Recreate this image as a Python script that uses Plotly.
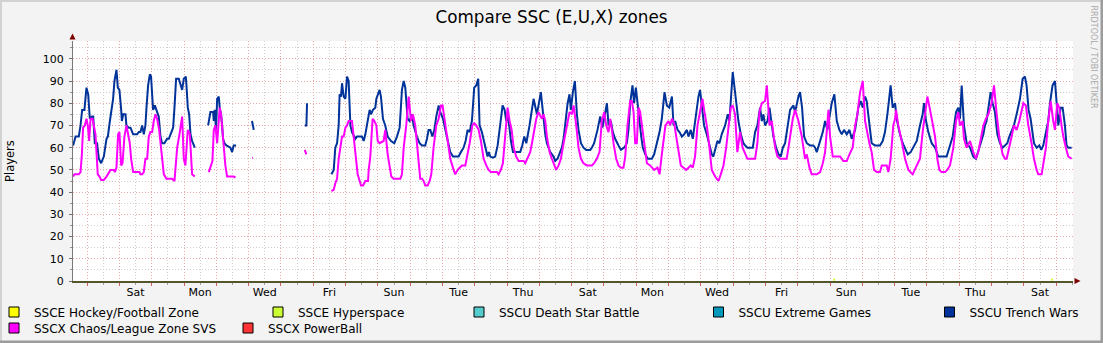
import pandas as pd
import plotly.graph_objects as go

# ---------------- data ----------------
chart_title = "Compare SSC (E,U,X) zones"
y_title = "Players"
watermark = "RRDTOOL / TOBI OETIKER"

start_time = "2024-01-04 13:30"
span_hours = 743

series_names = [
    "SSCE Hockey/Football Zone", "SSCE Hyperspace", "SSCU Death Star Battle",
    "SSCU Extreme Games", "SSCU Trench Wars", "SSCX Chaos/League Zone SVS", "SSCX PowerBall",
]
series_colors = ["#FFFF00", "#CCFF33", "#55CCCC", "#0099BB", "#003399", "#FF00FF", "#FF3333"]

day_labels = ["Sat", "Mon", "Wed", "Fri", "Sun", "Tue", "Thu", "Sat",
              "Mon", "Wed", "Fri", "Sun", "Tue", "Thu", "Sat"]
label_times = ["2024-01-06 12:00", "2024-01-08 12:00", "2024-01-10 12:00", "2024-01-12 12:00",
               "2024-01-14 12:00", "2024-01-16 12:00", "2024-01-18 12:00", "2024-01-20 12:00",
               "2024-01-22 12:00", "2024-01-24 12:00", "2024-01-26 12:00", "2024-01-28 12:00",
               "2024-01-30 12:00", "2024-02-01 12:00", "2024-02-03 12:00"]

# SSCU Trench Wars (hours after start, players)
tw_hours = [0.1,1.9,4.3,5.6,6.8,8.5,10.0,11.3,12.5,14.2,15.0,16.2,17.9,19.2,20.9,22.9,24.9,25.9,27.4,29.1,29.8,30.8,32.3,33.3,34.5,35.8,36.3,37.3,39.0,39.7,41.5,42.7,44.7,47.6,48.9,50.1,51.4,52.6,53.8,54.6,55.8,57.1,58.0,58.8,59.5,60.8,61.8,63.0,63.7,65.0,66.2,67.9,69.9,71.2,72.9,74.4,75.4,76.6,78.6,79.8,81.1,82.3,83.8,84.3,85.3,86.3,87.3,88.5,90.5,
    95,
    100.4,102.1,104.1,104.6,105.3,106.3,107.1,108.3,109.0,110.0,110.8,111.5,112.5,114.0,117.0,118.2,119.4,121.2,
    127, 133.0,134.3, 150, 172.2,173.4,173.9, 180,
    192.0,193.7,194.9,196.2,197.4,198.1,199.1,199.9,201.1,202.4,203.6,204.8,206.1,207.3,209.8,211.0,214.7,216.0,217.2,218.5,220.4,221.4,222.9,224.6,225.4,227.8,228.8,230.3,232.0,233.8,236.3,238.7,240.7,242.7,244.4,245.7,246.9,248.6,250.1,251.8,253.1,255.5,257.5,259.3,261.7,263.0,264.2,265.5,267.0,268.5,269.9,271.7,272.9,274.9,276.6,278.3,280.3,282.3,286.5,288.2,290.2,291.7,293.2,294.7,296.4,298.1,299.6,301.1,302.1,303.8,305.6,307.1,308.0,309.0,310.0,312.0,313.7,315.5,317.4,319.2,320.7,321.9,322.9,324.1,325.4,326.9,331.1,332.3,333.8,335.3,336.8,339.2,342.2,344.7,347.6,349.6,350.9,352.1,354.6,357.1,358.3,360.0,362.0,363.2,364.5,365.7,367.5,368.9,369.9,371.4,372.9,374.4,375.6,377.4,379.3,381.3,384.3,385.5,387.2,389.7,391.7,393.4,395.4,396.7,397.9,399.6,401.1,402.8,405.3,407.1,409.5,411.5,412.7,414.0,415.7,416.9,418.2,419.4,420.9,422.2,423.4,425.2,427.1,430.1,431.8,433.8,435.8,437.5,439.5,441.2,443.0,445.0,446.2,447.4,449.2,450.6,452.4,454.1,456.1,457.3,459.0,460.5,462.2,464.7,465.9,467.4,468.9,470.9,472.9,474.6,475.8,477.6,478.8,480.3,482.0,484.5,486.5,487.7,490.2,491.9,493.1,494.4,496.2,498.1,499.4,501.1,505.1,506.8,508.5,510.5,511.8,513.0,514.2,516.0,517.5,519.2,520.4,522.4,524.2,525.9,527.4,529.1,530.8,532.8,535.3,536.5,539.0,540.2,541.7,543.2,545.2,547.6,550.1,551.4,552.6,554.6,557.1,558.8,560.5,563.7,565.7,567.5,569.4,571.2,572.9,574.9,576.9,578.6,581.1,583.5,585.3,586.8,588.5,589.7,591.7,593.4,595.9,599.6,601.6,603.3,605.1,607.5,609.0,610.8,612.0,614.0,616.5,618.2,620.2,622.4,624.4,626.9,629.3,631.3,632.3,633.8,635.5,638.0,640.5,642.9,644.2,649.1,651.1,653.6,656.1,657.8,659.0,660.3,662.0,664.0,666.5,668.9,670.9,672.6,674.4,676.4,677.6,678.8,680.1,681.8,683.3,685.0,686.8,688.7,690.7,692.5,694.2,695.7,697.4,699.1,701.1,703.6,705.6,707.3,708.5,710.0,711.5,714.0,716.0,718.0,719.4,720.9,722.9,724.6,725.9,727.8,729.6,730.8,732.1,733.8,735.3,737.0,738.2,739.5,742.0]
tw_players = [61,65,65,70,77,77,87,84,73,74,74,62,62,55,53,56,64,65,72,79,82,90,95,87,86,77,72,75,75,70,69,69,66,66,67,67,70,66,70,78,88,93,92,84,77,79,77,75,74,65,62,62,64,64,67,69,78,91,91,89,86,91,92,88,78,75,66,63,60,
    None,
    70,76,76,72,77,68,82,83,78,75,70,64,62,61,60,58,61,61,
    None, 72,68, None, 70,70,80, None,
    48,50,60,62,70,84,83,89,83,82,92,90,70,67,64,65,65,63,66,70,77,75,77,78,82,86,83,73,70,65,63,62,65,69,86,90,87,73,72,75,70,65,62,61,61,64,68,68,65,68,74,79,76,73,68,63,58,56,56,58,60,63,68,67,72,87,88,91,70,67,62,58,56,58,56,55.5,56,61,70,79,77,72,74,70,63,58,58,58,61,65,62,70,82,75,85,73,66,62,58,56,54,55,58,60,64,70,80,84,77,85,90,75,68,62,60,59,59,60,62,68,74,69,76,80,70,72,67,64,61,59,60,62,68,80,88,80,87,80,70,65,60,57,55,55,57,62,67,73,85,79,78,83,70,72,68,67,65,66,68,65,68,64,72,83,86,78,70,66,61,57,56,60,63,62,66,70,75,72,94,85,78,72,66,62,61,60,60,67,70,78,72,75,70,72,78,70,65,60,57,56,60,62,68,77,79,76,83,85,78,65,62,61,61,60,58,62,67,72,68,80,84,72,68,66,68,66,68,64,68,78,81,78,83,81,70,62,61,61,63,67,75,88,78,80,73,67,62,60,57,58,60,63,70,75,80,72,67,62,60,56,56,56,60,65,76,78,73,88,70,62,60,56,55,58,62,66,70,72,78,85,80,76,66,62,60,61,62,65,68,70,75,82,91,92,88,77,73,62,60,61,59,61,67,72,80,88,90,82,70,78,78,70,61,60,60]

# SSCX Chaos/League Zone SVS (hours after start, players)
svs_hours = [0.1,1.1,4.3,5.6,6.6,7.5,8.8,10.0,11.0,12.0,13.0,14.5,15.5,16.7,18.4,19.7,20.9,22.9,24.9,25.9,27.8,30.3,31.1,32.3,33.5,34.5,35.8,36.8,38.2,39.7,41.0,42.2,43.2,44.7,49.4,50.1,51.4,52.6,53.8,55.1,56.3,57.5,58.8,60.0,61.3,62.5,64.0,65.5,67.5,69.4,73.6,75.4,77.4,79.1,81.1,82.3,83.5,85.3,86.8,88.5,90.5,
    95,
    100.9,102.6,103.6,104.6,105.8,107.1,107.8,109.0,110.0,111.0,112.0,113.2,114.5,119.4,120.7,
    127, 133.0,133.6, 150, 172.2,173.4, 180,
    192.0,193.7,194.9,196.2,197.4,198.6,199.9,201.1,202.4,203.6,204.8,207.3,208.0,209.3,210.5,211.5,213.0,214.0,215.5,216.5,217.2,219.2,219.7,220.9,222.6,223.9,225.4,226.4,227.8,230.8,232.0,233.8,235.3,236.5,238.2,243.2,244.4,245.7,247.6,249.4,251.1,252.6,254.3,255.5,256.8,258.0,259.3,260.5,261.7,263.5,265.0,266.2,267.9,269.9,271.7,273.4,274.6,276.6,278.3,280.3,282.8,284.0,285.8,289.0,291.5,293.2,294.7,296.7,298.1,299.6,301.4,303.1,305.1,307.1,308.8,310.5,315.0,316.2,317.9,319.4,321.4,322.9,324.4,325.9,327.4,329.3,331.1,334.8,336.0,337.3,339.7,341.0,342.7,344.2,345.9,348.4,349.6,350.9,352.1,354.1,355.8,357.5,359.0,360.8,362.5,364.5,367.0,368.9,370.7,371.9,373.9,375.6,377.4,379.3,381.8,385.5,387.2,389.2,391.2,392.9,394.7,396.2,397.9,399.2,400.4,401.6,403.6,405.3,407.1,409.0,410.3,412.0,414.0,415.2,416.5,417.7,418.9,420.2,421.4,422.6,424.4,426.4,428.8,431.8,434.3,435.8,437.5,438.7,440.2,442.5,443.7,445.0,446.7,448.2,449.9,451.6,453.6,455.6,457.3,459.0,460.5,462.2,464.0,465.9,467.7,469.2,470.9,472.9,474.6,477.1,479.6,481.3,483.3,485.3,487.0,488.7,490.2,491.9,493.6,495.6,497.5,499.4,501.1,506.8,508.5,510.0,511.8,514.2,515.5,517.5,519.2,521.7,523.4,525.4,530.3,531.6,533.3,534.8,536.5,539.0,541.5,543.9,545.2,547.2,548.9,552.6,555.1,557.1,558.8,561.3,562.5,564.5,566.2,569.9,572.4,574.9,576.9,579.3,581.1,582.8,584.8,586.8,588.5,589.7,591.7,593.4,595.2,597.2,599.6,600.9,604.6,605.8,607.5,609.5,610.8,611.5,613.2,615.7,618.2,620.7,623.9,626.9,629.3,631.3,633.0,634.8,636.8,638.7,640.5,642.2,643.7,645.4,647.9,649.6,651.6,654.1,656.1,657.8,659.0,661.0,662.0,664.0,666.5,668.9,670.9,672.6,674.4,676.4,678.3,680.1,682.5,684.3,686.3,688.2,690.7,692.5,693.7,695.7,697.4,699.1,701.1,703.1,706.1,708.0,709.8,712.2,714.0,716.0,717.2,719.7,720.9,722.9,724.6,726.4,728.3,729.6,731.3,732.8,734.5,735.8,737.7,739.5,742.0]
svs_players = [47,48,48,49,57,69,70,73,70,63,73,73,70,66,48,47,45.5,45.5,47,48,50,50,49,51,66,67,52,53,65,70,66,62,55,49,49,48,48,49,55,55,65,67,67,72,75,73,68,60,48,46,46,45,60,66,74,55,52,68,66,48,47,
    None,
    49,53,54,68,70,62,70,78,75,67,60,52,47,47,46.5,
    None, 55.5,55.5, None, 59,57, None,
    40.5,41,44,46,55,60,65,65,69,70,72,72,68,60,55,48,45,43,43,44,45,45,50,56,73,72,70,63,62,63,68,57,50,47,46,46,48,60,70,83,72,75,70,63,55,46,46,45,43,43,45,48,60,70,73,79,79,70,63,55,50,48,50,52,52,57,62,70,71,70,68,63,55,52,50,49,49,48,50,53,68,78,72,68,60,56,54,54,53,55,58,62,68,73,76,73,75,72,65,58,55,52,50,52,55,62,70,76,75,79,70,60,55,53,52,52,53,55,58,72,76,70,67,73,68,62,55,52,51,51,56,70,81,81,76,62,62,78,76,70,62,53,52,50,51,48,57,62,70,72,70,73,71,65,58,52,51,50,51,52,51,56,70,76,82,76,70,60,50,47,45,48,52,60,70,78,79,75,58,67,60,57,55,55,62,76,80,81,88,70,72,60,56,55,55,60,68,73,77,72,65,55,57,51,48,48,49,53,58,77,65,56,56,56,54,54,57,60,70,75,85,90,72,68,62,58,50,49,49,52,52,49,55,70,73,77,70,63,55,50,48,52,55,67,75,83,77,71,65,55,50,49,49,50,52,60,72,76,70,72,64,60,63,58,55,58,63,70,73,75,80,88,75,65,57,55,55,60,65,70,68,72,80,79,70,62,55,50,48,48,52,60,72,81,72,68,80,78,70,65,60,56,55]

# SSCE Hyperspace: only two brief blips just above zero
hyper_hours = [564.8, 566.3, 567.0, 726.8, 728.3]
hyper_players = [0.6, 0.6, None, 0.6, 0.6]

# ---------------- figure ----------------
t0 = pd.Timestamp(start_time)
t_end = t0 + pd.Timedelta(hours=span_hours)


def to_times(hours):
    return [t0 + pd.Timedelta(hours=h) for h in hours]


FONT = "DejaVu Sans"
PL, PR, PT, PB = 73, 30, 41, 62
W, H = 1103, 343
PW, PH = W - PL - PR, H - PT - PB


def px(x):  # pixel -> paper x
    return (x - PL) / PW


def py(y):  # pixel -> paper y
    return (H - PB - y) / PH


fig = go.Figure()

data_map = {
    "SSCE Hyperspace": (hyper_hours, hyper_players),
    "SSCU Trench Wars": (tw_hours, tw_players),
    "SSCX Chaos/League Zone SVS": (svs_hours, svs_players),
}
for name, color in zip(series_names, series_colors):
    if name in data_map:
        hrs, vals = data_map[name]
        fig.add_trace(go.Scatter(
            x=to_times(hrs), y=vals, mode="lines", name=name,
            line=dict(color=color, width=2), connectgaps=False,
            showlegend=False, hoverinfo="skip"))

# legend entries (square swatches), one legend per entry for rrdtool-like placement
legend_text_x = [34, 298, 499, 738.5, 969.5, 34, 268]
legend_row_y = [312, 312, 312, 312, 312, 328, 328]
for i, (name, color) in enumerate(zip(series_names, series_colors)):
    lname = "legend" if i == 0 else f"legend{i + 1}"
    fig.add_trace(go.Scatter(
        x=[None], y=[None], mode="markers", name=name, legend=lname,
        marker=dict(symbol="square", size=10, color=color, line=dict(color="#000000", width=1)),
        showlegend=True, xaxis="x2"))
    fig.update_layout(**{lname: dict(
        xref="paper", yref="paper",
        x=px(legend_text_x[i] - 40), y=py(legend_row_y[i]),
        xanchor="left", yanchor="middle",
        bgcolor="rgba(0,0,0,0)", borderwidth=0,
        font=dict(family=FONT, size=12, color="#000000"))})

RED_GRID = "#E8A8A8"
GRAY_GRID = "#CFCFCF"
DASH = "1px,2px"

fig.update_layout(
    width=W, height=H, autosize=False,
    margin=dict(l=PL, r=PR, t=PT, b=PB, pad=0, autoexpand=False),
    paper_bgcolor="#F3F3F3", plot_bgcolor="#FFFFFF",
    font=dict(family=FONT, size=11, color="#000000"),
    title=dict(text=chart_title, x=0.5, xanchor="center", y=1 - 17 / H, yanchor="middle",
               font=dict(family=FONT, size=16.8, color="#000000")),
    xaxis=dict(
        type="date", range=[t0, t_end], showticklabels=False,
        tick0="2024-01-05", dtick=86400000,
        showgrid=True, gridcolor=RED_GRID, griddash=DASH, gridwidth=1,
        ticks="outside", ticklen=3, tickcolor="#D06060", tickwidth=1,
        minor=dict(tick0="2024-01-04 12:00", dtick=86400000, showgrid=True,
                   gridcolor=GRAY_GRID, griddash=DASH, gridwidth=1,
                   ticks="outside", ticklen=2, tickcolor="#A0A0A0"),
        showline=True, linecolor="#55552C", linewidth=1.5, zeroline=False, fixedrange=True,
    ),
    xaxis2=dict(
        type="date", range=[t0, t_end], overlaying="x", anchor="y", side="bottom",
        tickmode="array", tickvals=label_times, ticktext=day_labels,
        showgrid=False, ticks="", showline=False, zeroline=False,
        tickfont=dict(family=FONT, size=11, color="#000000"), ticklabelstandoff=3,
    ),
    yaxis=dict(
        range=[0, 108], tick0=0, dtick=10,
        showgrid=True, gridcolor=RED_GRID, griddash=DASH, gridwidth=1,
        ticks="outside", ticklen=3, tickcolor="#707070",
        minor=dict(dtick=5, showgrid=True, gridcolor=GRAY_GRID, griddash=DASH, gridwidth=1,
                   ticks="outside", ticklen=2, tickcolor="#909090"),
        showline=True, linecolor="#7A7A7A", linewidth=1, zeroline=False,
        tickfont=dict(family=FONT, size=11, color="#000000"), ticklabelstandoff=3,
    ),
)

# axis title and watermark
fig.add_annotation(text=y_title, xref="paper", yref="paper", x=px(10), y=0.5,
                   textangle=-90, showarrow=False, xanchor="center", yanchor="middle",
                   font=dict(family=FONT, size=11.5, color="#000000"))
fig.add_annotation(text=watermark, xref="paper", yref="paper", x=px(1093), y=py(56.5),
                   textangle=90, showarrow=False, xanchor="center", yanchor="middle",
                   font=dict(family=FONT, size=8, color="#A8A8A8"))

# axis arrows (rrdtool style)
ARROW = "#7F0000"
fig.add_shape(type="path", xref="paper", yref="paper", line=dict(width=0), fillcolor=ARROW,
              path=f"M {px(69.5)},{py(39.5)} L {px(75.5)},{py(39.5)} L {px(72.5)},{py(33.5)} Z")
fig.add_shape(type="path", xref="paper", yref="paper", line=dict(width=0), fillcolor=ARROW,
              path=f"M {px(1074.5)},{py(278)} L {px(1074.5)},{py(284)} L {px(1080.5)},{py(281)} Z")

# image frame: light top/left, dark bottom/right
fig.add_shape(type="rect", xref="paper", yref="paper", x0=px(0), x1=px(W), y0=py(0), y1=py(2),
              line=dict(width=0), fillcolor="#D2D2D2", layer="above")
fig.add_shape(type="rect", xref="paper", yref="paper", x0=px(0), x1=px(2), y0=py(0), y1=py(H),
              line=dict(width=0), fillcolor="#D2D2D2", layer="above")
fig.add_shape(type="rect", xref="paper", yref="paper", x0=px(0), x1=px(W), y0=py(H - 2.5), y1=py(H),
              line=dict(width=0), fillcolor="#9C9C9C", layer="above")
fig.add_shape(type="rect", xref="paper", yref="paper", x0=px(W - 2.5), x1=px(W), y0=py(0), y1=py(H),
              line=dict(width=0), fillcolor="#9C9C9C", layer="above")

fig.write_html("out.html")
